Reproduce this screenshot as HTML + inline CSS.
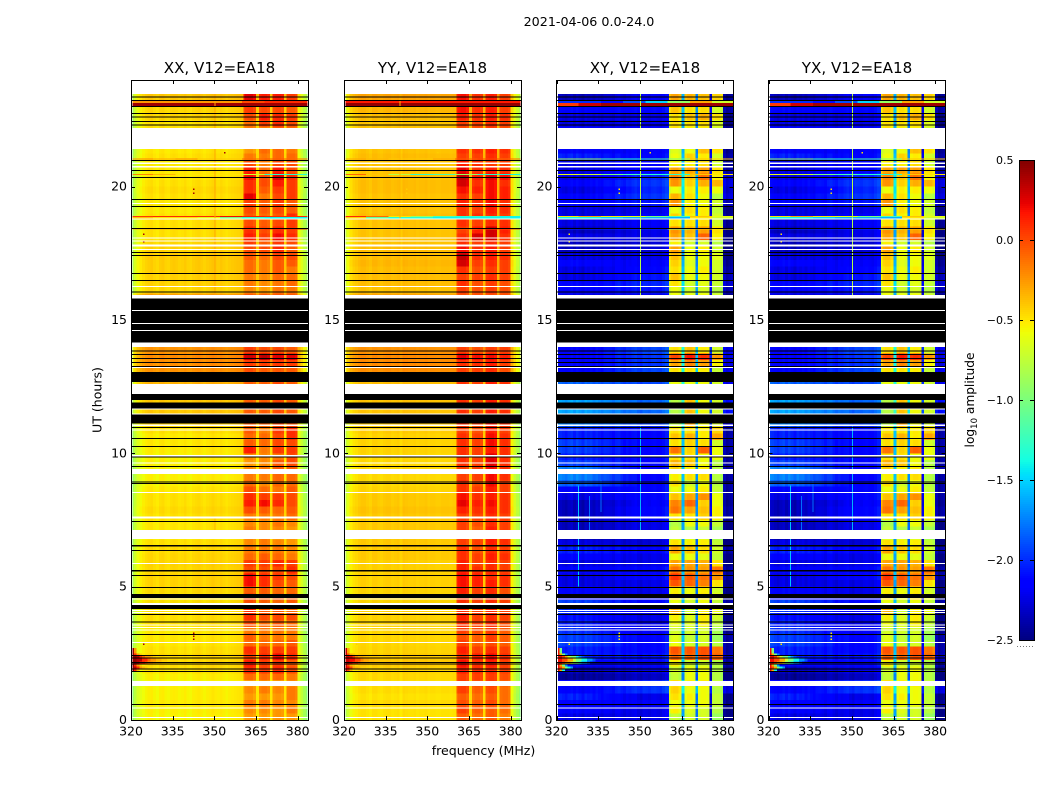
<!DOCTYPE html>
<html lang="en">
<head>
<meta charset="utf-8">
<title>2021-04-06 0.0-24.0</title>
<style>
html,body{margin:0;padding:0;background:#fff;}
svg{display:block;font-family:"DejaVu Sans","Liberation Sans",sans-serif;}
text{fill:#000;}
</style>
</head>
<body>
<svg id="chart" xmlns="http://www.w3.org/2000/svg" width="1050" height="800" viewBox="0 0 1050 800">
  <rect x="0" y="0" width="1050" height="800" fill="#fff"/>
  <text x="589" y="26" font-size="12.7" text-anchor="middle">2021-04-06 0.0-24.0</text>
  <text x="0" y="0" font-size="12.55" text-anchor="middle" transform="translate(101.5,400) rotate(-90)">UT (hours)</text>
  <text x="483.5" y="755" font-size="12.55" text-anchor="middle">frequency (MHz)</text>
  <text x="0" y="0" font-size="12.2" text-anchor="middle" transform="translate(974,400) rotate(-90)">log<tspan font-size="8.5" dy="3">10</tspan><tspan dy="-3"> amplitude</tspan></text>
</svg>
<script>
// ---- data -----------------------------------------------------------------
const freqTicks = [320, 335, 350, 365, 380];
const hourTicks = [0, 5, 10, 15, 20];
const colorbarTicks = [0.5, 0, -0.5, -1, -1.5, -2, -2.5];
const colorbarTickLabels = ['0.5', '0.0', '\u22120.5', '\u22121.0', '\u22121.5', '\u22122.0', '\u22122.5'];

const blankSpans = [[23.475,24],[21.41,22.2],[20.85,20.91],[20.72,20.78],[19.35,19.39],[18.77,18.81],[18.06,18.1],[17.94,17.98],[17.76,17.83],[17.62,17.66],[16.24,16.27],[15.81,15.94],[15.34,15.38],[14.85,14.89],[14.59,14.63],[13.99,14.16],[13.2,13.24],[12.23,12.6],[11.65,11.69],[11.46,11.49],[11.03,11.09],[10.86,10.89],[9.88,9.93],[9.62,9.65],[9.23,9.41],[8.51,8.55],[7.56,7.64],[7.09,7.13],[6.79,7.09],[5.85,5.89],[4.51,4.56],[4.32,4.39],[4.09,4.13],[4.01,4.05],[3.54,3.58],[3.45,3.49],[3.36,3.39],[2.89,2.93],[1.28,1.46],[0.43,0.47],[0.08,0.11]];
const flagSpans = [[23.34,23.38],[23.21,23.25],[22.99,23.03],[22.73,22.76],[22.6,22.64],[22.43,22.46],[22.3,22.34],[20.96,21],[20.59,20.63],[20.33,20.36],[19.5,19.54],[19.24,19.28],[18.41,18.45],[17.51,17.55],[17.4,17.44],[16.73,16.76],[16.46,16.5],[16.03,16.07],[14.16,15.81],[13.82,13.86],[13.69,13.73],[13.54,13.58],[13.39,13.43],[13.24,13.28],[12.68,13.05],[12,12.23],[11.68,11.91],[11.12,11.46],[10.95,10.99],[10.54,10.58],[10.24,10.28],[9.84,9.88],[9.49,9.53],[8.91,8.94],[8.85,8.89],[7.43,7.46],[6.51,6.56],[6.34,6.38],[5.57,5.63],[5.4,5.44],[4.95,4.99],[4.58,4.73],[4.16,4.31],[3.94,3.98],[3.66,3.69],[3.19,3.23],[2.4,2.44],[2.31,2.34],[2.14,2.18],[2.08,2.12],[1.89,1.93],[1.8,1.84],[0.56,0.6]];
const eventSpans = [[23.03,23.13],[23.13,23.25],[21.02,21.06],[20.44,20.48],[18.86,18.9],[18.81,18.86],[18.4,18.44]];
const flareHours = [1.9,2.0,2.1,2.2,2.3,2.4,2.5,2.6,2.7];
const flareReach = [3,6,4,12,14,10,4,2,2];
const speckFreqs = [342.4,342.4,342.4,324.4,342.4,342.4,324.4,324.4,353.5];
const speckHours = [3.29,3.17,3.06,2.87,19.94,19.79,18.25,17.96,21.3];

// channel offsets (64 channels, 320-383 MHz)
const xxChannel = [-.35,-.22,-.12,-.07,-.03,0,.02,.03,0,-.02,.02,.03,0,-.01,.02,.03,.02,0,.01,.03,0,-.01,.02,.03,.04,.02,0,.02,.03,.05,.03,.02,.04,.02,0,.02,.03,.04,.05,.06,-.05,0,.02,.02,-.03,.05,-.02,.02,.02,-.02,.05,0,.03,.03,0,.05,0,.02,.02,-.02,-.08,-.2,-.3,-.4];
const yyChannel = [-.3,-.2,-.1,-.05,-.03,0,.02,.02,0,-.02,.02,.02,0,-.01,.01,.02,.02,0,.01,.02,-.02,.03,.02,.01,.01,.02,0,.01,.01,.02,0,.01,.01,0,0,.01,.01,.01,0,.01,-.05,0,.02,.02,-.03,.04,-.02,.02,.02,-.02,.03,0,.03,.03,0,.04,0,.02,.02,-.02,-.1,-.25,-.35,-.45];
const xyChannel = [.05,.03,0,-.03,.02,.05,-.02,.05,0,-.05,.03,0,.03,-.02,.03,0,-.03,.02,.02,0,-.03,.03,.05,0,-.03,.02,0,.03,.05,0,-.03,.03,.02,0,.03,.04,.02,0,.05,.1,-.15,0,.02,.02,-.05,.6,-.03,.02,.02,-.03,.45,0,.03,.03,0,-.05,0,.02,.02,-.05,-.2,-.3,-.25,-.2];

// continuum level per quarter hour
const xxContinuum = [-.56,-.55,-.53,-.55,-.55,-.57,-.55,-.5,-.48,-.47,-.5,-.52,-.52,-.53,-.5,-.5,-.5,-.5,-.5,-.48,-.46,-.46,-.47,-.46,-.47,-.48,-.5,-.52,-.52,-.52,-.5,-.48,-.5,-.5,-.52,-.55,-.55,-.56,-.55,-.55,-.53,-.52,-.53,-.5,-.45,-.4,-.42,-.42,-.4,-.38,-.35,-.35,-.25,-.24,-.23,-.25,-.3,-.3,-.3,-.3,-.3,-.3,-.3,-.3,-.47,-.45,-.45,-.44,-.44,-.43,-.45,-.47,-.5,-.5,-.5,-.5,-.52,-.52,-.5,-.48,-.5,-.52,-.52,-.53,-.5,-.52,-.5,-.5,-.5,-.5,-.46,-.47,-.45,-.42,-.35,-.38];
const yyContinuum = [-.5,-.5,-.47,-.5,-.48,-.48,-.47,-.45,-.42,-.42,-.45,-.46,-.46,-.46,-.45,-.45,-.45,-.45,-.45,-.45,-.44,-.44,-.44,-.44,-.42,-.42,-.42,-.42,-.42,-.42,-.42,-.4,-.42,-.42,-.45,-.47,-.47,-.47,-.47,-.47,-.45,-.45,-.45,-.43,-.42,-.38,-.4,-.4,-.38,-.38,-.38,-.38,-.23,-.22,-.22,-.24,-.3,-.3,-.3,-.3,-.3,-.3,-.3,-.3,-.4,-.38,-.38,-.38,-.36,-.38,-.38,-.4,-.4,-.4,-.4,-.38,-.4,-.4,-.4,-.38,-.38,-.4,-.4,-.4,-.38,-.4,-.4,-.4,-.4,-.4,-.38,-.36,-.35,-.3,-.2,-.3];
const xyContinuumLow = [-2.1,-2,-2,-1.9,-2,-2,-2.3,-2.2,-2,-1.9,-1.9,-1.8,-1.8,-1.85,-1.9,-1.95,-1.85,-1.8,-2,-2,-2.1,-2.1,-2,-2.1,-2,-1.9,-2.1,-2.2,-2.2,-2.2,-2.2,-2.2,-2.2,-2.1,-2,-1.7,-1.6,-1.6,-1.8,-1.9,-1.8,-1.8,-1.9,-1.9,-1.6,-1.6,-1.5,-1.5,-1.7,-1.7,-1.7,-1.7,-2,-2,-2,-2,-2.1,-2.1,-2.1,-2.1,-2.1,-2.1,-2.1,-2.1,-2,-2,-2.1,-2.1,-2,-2.1,-2.2,-2.2,-2.1,-2.2,-2.1,-2.1,-2.1,-2,-2,-2.1,-2,-2.1,-2.1,-2.1,-1.9,-2,-2.1,-2.1,-2,-2.1,-2.1,-2,-2.2,-2.2,-2.1,-2.1];
const xyContinuumHigh = [-2.1,-2.1,-2.05,-2.1,-1.85,-1.9,-2.2,-2.1,-2,-1.95,-2,-2,-2,-2.05,-2.1,-2.1,-2.05,-2,-2.1,-2.1,-2.1,-2,-2,-2.1,-2.1,-2,-2.15,-2.15,-2.1,-2.1,-2,-2,-2.05,-2,-2,-2,-2,-2,-2,-2,-2,-2,-2,-2,-1.8,-1.8,-1.7,-1.7,-1.8,-1.8,-1.8,-1.8,-1.8,-1.85,-1.85,-1.8,-2.1,-2.1,-2.1,-2.1,-2.1,-2.1,-2.1,-2.1,-1.95,-1.9,-1.95,-2,-2.05,-2.1,-2.15,-2.15,-2.1,-2.1,-2.05,-2.05,-2.1,-1.95,-1.85,-1.9,-1.85,-1.9,-2,-2.05,-2,-2.05,-2.05,-2.1,-2.05,-2.1,-2.1,-2,-2.1,-2.05,-2,-2];

// in-band level per quarter hour for each of the four sub-bands
const xxSubband1 = [-.2,-.15,-.1,-.2,-.15,-.2,-.05,.15,.2,.1,.15,-.05,0,-.1,.05,.15,.15,.05,.1,0,.25,.25,.05,.1,-.05,-.1,-.15,-.15,-.1,-.15,-.1,.05,.2,.15,.05,-.05,-.1,-.15,-.2,-.15,.2,0,-.05,0,0,0,0,0,0,0,0,0,.05,.1,.35,.1,.1,.1,.1,.1,0,0,0,0,-.15,-.1,-.1,-.05,-.05,0,.05,.1,.2,.15,.05,0,.05,.1,.3,.15,.15,.25,.2,.05,-.1,-.2,-.15,-.1,-.1,-.05,.05,.1,.2,.3,.35,.35];
const xxSubband2 = [-.2,-.15,-.1,-.2,-.1,-.15,-.05,.1,.1,.15,.1,-.05,-.1,-.1,-.05,.05,0,0,0,0,.15,.15,.05,.1,0,-.1,-.1,-.1,-.15,-.15,-.1,0,.25,.1,-.05,-.15,-.1,-.1,-.15,-.15,-.1,-.05,-.05,-.1,0,0,0,0,0,0,0,0,0,.1,.4,.05,0,0,0,0,0,0,0,0,-.2,-.15,-.15,-.1,-.1,-.05,.05,0,.1,.05,0,-.05,0,0,-.1,0,.05,.05,-.05,-.1,-.1,-.05,-.1,-.05,-.1,.1,.2,.05,.1,.2,.3,.3];
const xxSubband3 = [-.2,-.2,-.15,-.2,-.15,-.2,-.05,.15,.1,.25,.1,-.05,-.1,-.1,0,.05,0,-.05,0,-.05,.05,.1,.05,.15,-.05,-.1,-.15,-.2,-.15,-.1,-.1,-.05,.15,.1,-.1,-.05,-.05,0,0,-.1,.1,.05,.05,.1,.05,.05,.05,.05,.05,.05,.05,.05,0,.1,.3,.05,0,0,0,0,0,0,0,0,-.1,-.1,-.05,0,0,.05,.15,.1,.25,.15,.05,0,.05,.1,.05,.1,.2,.3,.2,.05,-.05,-.05,-.1,-.1,0,.15,.15,.05,.1,.2,.3,.3];
const xxSubband4 = [-.2,-.1,-.15,-.1,-.1,-.15,-.1,.05,0,.15,.1,0,-.1,-.1,-.05,.05,-.05,0,0,-.05,0,.05,.15,.1,-.1,-.15,-.2,-.2,-.2,-.15,-.05,0,.05,.05,0,-.05,-.05,0,.05,.05,.1,.05,.15,.15,0,0,0,0,0,0,0,0,0,.1,.3,0,0,0,0,0,0,0,0,0,-.1,-.05,-.05,-.1,0,.05,0,.05,.15,.1,.1,.15,0,0,.1,.1,.1,.15,.05,.05,-.05,-.1,-.15,-.1,-.05,.05,.1,0,0,.1,.25,.25];
const yySubband1 = [-.05,.05,0,-.05,.05,.05,.05,.15,.2,.1,.15,.05,0,.05,.1,.15,.1,.1,.1,.15,.2,.2,.15,.15,.1,.1,.05,.05,.05,.05,.05,.15,.25,.2,.1,.1,.05,.05,.1,.1,.1,.1,.1,.05,.1,.1,.1,.1,.1,.1,.1,.1,.05,.1,.25,.05,0,0,0,0,0,0,0,0,.05,.1,.05,.1,.3,.35,.2,.1,.1,.05,.1,.1,.1,.15,.1,.2,.3,.35,.25,.15,.05,.1,.1,.1,0,.05,.15,.2,.15,.2,.3,.3];
const yySubband2 = [-.1,-.05,-.05,-.1,-.05,0,.05,.1,.1,.15,.05,-.05,-.05,0,.05,.05,.05,.05,.05,.05,.15,.15,.1,.05,.05,0,.05,0,-.05,0,.05,.1,.15,.1,.05,0,.05,.05,.05,.05,.05,.05,.05,0,.05,.05,.05,.05,.05,.05,.05,.05,.05,.1,.2,0,0,0,0,0,0,0,0,0,0,0,.05,0,.05,.1,.1,.05,.3,.15,.05,.1,.05,.1,.05,.15,.1,.15,.1,.1,.05,.1,.1,.05,0,.05,.1,.1,.05,.1,.25,.25];
const yySubband3 = [-.05,-.05,0,-.05,0,.05,.05,.1,.15,.2,.1,0,.05,.05,.1,.1,.1,.1,.1,.1,.15,.1,.1,.1,.15,.1,.15,.15,.15,.1,.1,.15,.2,.15,.15,.2,.2,.2,.25,.25,.15,.2,.2,.15,.15,.15,.15,.15,.15,.15,.15,.15,.1,.15,.2,.05,0,0,0,0,0,0,0,0,.05,.05,.1,.05,.1,.15,.15,.1,.3,.3,.1,.1,.15,.2,.2,.2,.2,.25,.15,.05,.1,.15,.15,.1,.05,.1,.15,.15,.1,.15,.3,.3];
const yySubband4 = [-.15,-.1,-.1,-.1,-.1,-.05,0,.05,.05,.1,.05,-.05,-.05,-.05,0,.05,.05,.05,0,0,.1,.1,.05,.05,.1,.05,.1,.1,.05,.05,.05,.1,.1,.1,.05,.05,.1,.1,.1,.1,.1,.1,.1,.05,.1,.1,.1,.1,.1,.1,.1,.1,0,.05,.15,.05,0,0,0,0,0,0,0,0,0,0,.05,.05,.05,.1,.05,.05,.1,.15,.1,.05,.1,.1,.15,.15,.1,.2,.1,.05,.05,.1,.1,.05,0,.05,.1,.05,.05,.05,.2,.2];
const xySubband1 = [-.75,-.55,-.6,-.5,-.45,-.5,-.75,-.7,-.55,-.1,-.05,-.6,-.65,-.7,-.6,-.55,-.35,-.6,-.5,-.55,-.05,.05,-.15,-.3,-.6,-.3,-.5,-.65,-.75,-.8,-.5,-.15,-.2,-.4,-.6,-.5,-.55,-.45,-.35,-.5,-.15,-.5,-.4,-.5,-.8,-.8,-.8,-.8,-.7,-.7,-.6,-.6,-.5,-.3,0,-.5,-.6,-.6,-.6,-.6,-.6,-.6,-.6,-.6,-.6,-.5,-.4,-.5,-.45,-.4,-.3,-.55,-.3,-.25,-.5,-.45,-.6,-.25,-.35,-.6,-.25,-.2,-.3,-.55,-.6,-.65,-.55,-.6,-.5,-.5,-.5,-.4,-.45,-.3,-.25,-.3];
const xySubband2 = [-.7,-.65,-.6,-.55,-.6,-.55,-.6,-.6,-.7,-.1,-.05,-.7,-.75,-.7,-.65,-.65,-.7,-.7,-.6,-.6,-.1,-.05,-.25,-.3,-.6,-.4,-.55,-.65,-.8,-.6,-.5,-.3,-.1,-.3,-.6,-.7,-.5,-.55,-.4,-.5,-.45,-.45,-.35,-.5,-.3,-.4,-.4,-.4,-.6,-.6,-.6,-.6,-.5,-.2,.15,-.4,-.6,-.6,-.6,-.6,-.6,-.6,-.6,-.6,-.7,-.7,-.6,-.6,-.65,-.6,-.6,-.7,-.4,-.35,-.5,-.55,-.5,-.55,-.5,-.55,-.45,-.4,-.3,-.55,-.45,-.6,-.55,-.6,-.55,-.5,-.4,-.5,-.5,-.35,-.3,-.3];
const xySubband3 = [-.7,-.7,-.6,-.6,-.6,-.55,-.6,-.6,-.7,-.05,-.05,-.7,-.7,-.7,-.55,-.55,-.55,-.6,-.5,-.55,-.2,-.15,-.3,-.35,-.65,-.5,-.55,-.65,-.75,-.6,-.45,-.4,-.45,-.25,-.55,-.6,-.5,-.55,-.6,-.6,-.1,-.5,-.55,-.55,-.6,-.6,-.6,-.6,-.6,-.6,-.6,-.6,-.55,-.3,.05,-.55,-.6,-.6,-.6,-.6,-.6,-.6,-.6,-.6,-.7,-.65,-.6,-.55,-.6,-.6,-.55,-.7,-.1,-.3,-.5,-.55,-.55,-.6,-.6,-.55,-.35,-.15,-.3,-.5,-.55,-.4,-.45,-.6,-.55,-.5,-.35,-.5,-.55,-.4,-.25,-.25];
const xySubband4 = [-.9,-.8,-.75,-.75,-.8,-.75,-.8,-.8,-.8,-.1,-.15,-.8,-.9,-.85,-.75,-.7,-.6,-.75,-.6,-.7,-.5,-.25,-.15,-.5,-.75,-.7,-.75,-.85,-.85,-.75,-.55,-.55,-.6,-.6,-.75,-.8,-.8,-.8,-.8,-.6,-.6,-.7,-.3,-.45,-.7,-.7,-.7,-.7,-.7,-.7,-.7,-.7,-.75,-.55,-.25,-.7,-.7,-.7,-.7,-.7,-.7,-.7,-.7,-.7,-.8,-.75,-.7,-.7,-.7,-.65,-.7,-.8,-.55,-.5,-.7,-.7,-.75,-.7,-.8,-.6,-.35,-.55,-.5,-.7,-.7,-.5,-.45,-.65,-.7,-.65,-.5,-.7,-.65,-.45,-.3,-.35];

// one row of levels per event span, each with eight 8-MHz segments
const xxEvents = [[.42,.42,.42,.42,.42,.42,.42,.42],[-.25,-.25,-.25,-.25,-.25,0,.1,.1],[-.2,-.3,-.2,-.4,-.4,-.1,-.05,-.1],[-.2,-.35,-.5,-.5,-.5,-.7,-1.3,-1.3],[.05,.1,.1,.1,.2,.15,.1,.1],[-.4,-.5,-.5,-.6,-1,-1.3,-1.4,-1.4],[-.3,-.3,-.2,-.3,-.4,0,.1,.1]];
const yyEvents = [[.45,.45,.45,.45,.45,.45,.45,.45],[.15,.15,.15,.15,.15,.15,.15,.15],[-.3,-.35,-.4,-.4,-.3,-.05,0,-.1],[-.1,-.4,-.8,-1.3,-1.2,-.9,-1.3,-1.4],[.1,-.1,-.5,-.9,-1.2,-1.3,-1.3,-1.4],[-.45,-1.1,-1.3,-1.3,-1.4,-1.4,-1.4,-1.4],[-.42,-.42,-.42,-.42,-.42,-.1,0,0]];
const xyEvents = [[.05,.3,.42,.42,.42,.42,.42,.42],[-2,-2,-2.1,-1.9,-1.5,-.9,-.3,-.7],[-.9,-.9,-1.2,-1.3,-1.2,-1,-.4,-.4],[-.6,-.7,-1,-1.2,-1.3,-1.3,-.4,-.5],[-.5,-.3,-.5,-.6,-1,-1.2,-.4,-.6],[-1.4,-1.4,-1.5,-1.6,-1.6,-1.6,-.5,-.7],[-2,-2,-2,-2,-2,-1,-.4,-.5]];

const xxFlare = [.45,.35,.1,-.1,-.25,-.35,-.42,-.47];
const yyFlare = [.3,.2,0,-.2,-.3,-.35,-.38,-.4];
const xyFlare = [.2,0,-.3,-.7,-1,-1.4,-1.7,-1.9];

// narrow vertical features: frequency, start hour, end hour, level
const xxLines = [[350,15.9,23.47,-.3],[350,6.8,7.6,-.35]];
const yyLines = [[340,16,23.47,-.35]];
const xyLines = [[350,15.9,23.47,-.8],[350,7,11,-1.6],[327.8,5,8.8,-1.55],[331.7,7,8.4,-1.8],[335.9,7.8,9,-1.8]];

const titles = ['XX, V12=EA18', 'YY, V12=EA18', 'XY, V12=EA18', 'YX, V12=EA18'];
const panelLeft = [131, 344, 556.5, 768.5];

const panels = [
  {key:'xx', channel:xxChannel, low:xxContinuum, high:xxContinuum, contShift:0, bandShift:-.07, subs:[xxSubband1,xxSubband2,xxSubband3,xxSubband4], events:xxEvents, flare:xxFlare, lines:xxLines, speck:.4},
  {key:'yy', channel:yyChannel, low:yyContinuum, high:yyContinuum, contShift:0, bandShift:-.03, subs:[yySubband1,yySubband2,yySubband3,yySubband4], events:yyEvents, flare:yyFlare, lines:yyLines, speck:-.42},
  {key:'xy', channel:xyChannel, low:xyContinuumLow, high:xyContinuumHigh, contShift:-.15, bandShift:0, subs:[xySubband1,xySubband2,xySubband3,xySubband4], events:xyEvents, flare:xyFlare, lines:xyLines, speck:-.5},
  {key:'yx', channel:xyChannel, low:xyContinuumLow, high:xyContinuumHigh, contShift:-.15, bandShift:0, subs:[xySubband1,xySubband2,xySubband3,xySubband4], events:xyEvents, flare:xyFlare, lines:xyLines, speck:-.5}
];

// ---- scales ------------------------------------------------------------------
const NS = 'http://www.w3.org/2000/svg';
const svg = document.getElementById('chart');
const AX_TOP = 80, AX_BOTTOM = 720, AX_W = 177, PX_MHZ = 2.778, PX_HOUR = 26.667;
const CB_X = 1019, CB_W = 15, CB_TOP = 160, CB_BOTTOM = 640;
const yScale = t => AX_BOTTOM - t * PX_HOUR;
const cbScale = v => CB_BOTTOM - (v + 2.5) / 3 * (CB_BOTTOM - CB_TOP);

function interp(knots, f) {
  for (let i = 1; i < knots.length; i++) {
    if (f <= knots[i][0]) {
      const a = knots[i - 1], b = knots[i];
      return a[1] + (b[1] - a[1]) * (f - a[0]) / (b[0] - a[0]);
    }
  }
  return knots[knots.length - 1][1];
}
const R = [[0,0],[.35,0],[.66,1],[.89,1],[1,.5]];
const G = [[0,0],[.125,0],[.375,1],[.64,1],[.91,0],[1,0]];
const B = [[0,.5],[.11,1],[.34,1],[.65,0],[1,0]];
function jet(v) {
  const f = Math.min(1, Math.max(0, (v + 2.5) / 3));
  return 'rgb(' + Math.round(255 * interp(R, f)) + ',' + Math.round(255 * interp(G, f)) + ',' + Math.round(255 * interp(B, f)) + ')';
}
function subbandOf(ch) {
  if (ch >= 40 && ch <= 44) return 0;
  if (ch >= 46 && ch <= 49) return 1;
  if (ch >= 51 && ch <= 54) return 2;
  if (ch >= 56 && ch <= 59) return 3;
  return -1;
}
function channelEdge(ch) {
  if (ch === 0) return 320.5;
  if (ch === 64) return 383.5;
  if (ch === 40) return 360.45;
  return 320 + ch;
}
function cellValue(p, ch, r) {
  const s = subbandOf(ch);
  if (s >= 0) return p.subs[s][r] + p.bandShift + p.channel[ch];
  const w = Math.min(1, Math.max(0, (ch - 10) / 20));
  return p.low[r] * (1 - w) + p.high[r] * w + p.contShift + p.channel[ch];
}
function rect(parent, x, y, w, h, fill) {
  const el = document.createElementNS(NS, 'rect');
  el.setAttribute('x', x);
  el.setAttribute('y', y);
  el.setAttribute('width', w);
  el.setAttribute('height', h);
  el.setAttribute('fill', fill);
  el.setAttribute('shape-rendering', 'crispEdges');
  parent.appendChild(el);
  return el;
}
function tick(parent, x1, y1, x2, y2) {
  const el = document.createElementNS(NS, 'line');
  el.setAttribute('x1', x1);
  el.setAttribute('y1', y1);
  el.setAttribute('x2', x2);
  el.setAttribute('y2', y2);
  el.setAttribute('stroke', '#000');
  el.setAttribute('stroke-width', '1');
  el.setAttribute('shape-rendering', 'crispEdges');
  parent.appendChild(el);
  return el;
}
function label(parent, x, y, size, anchor, str) {
  const el = document.createElementNS(NS, 'text');
  el.setAttribute('x', x);
  el.setAttribute('y', y);
  el.setAttribute('font-size', size);
  el.setAttribute('text-anchor', anchor);
  el.textContent = str;
  parent.appendChild(el);
  return el;
}

// ---- panels ---------------------------------------------------------------------
panels.forEach((p, idx) => {
  const x0 = panelLeft[idx];
  const xScale = f => x0 + (f - 320) * PX_MHZ;
  const g = document.createElementNS(NS, 'g');
  
  
  svg.appendChild(g);

  // heatmap cells
  for (let r = 0; r < 96; r++) {
    for (let ch = 0; ch < 64; ch++) {
      const left = xScale(channelEdge(ch));
      const right = xScale(channelEdge(ch + 1));
      const top = yScale((r + 1) / 4);
      const el = rect(g, left, top, right - left, yScale(r / 4) - top, jet(cellValue(p, ch, r)));
      
      
    }
  }
  // row events
  p.events.forEach((levels, e) => {
    const span = eventSpans[e];
    levels.forEach((v, s) => {
      const left = xScale(Math.max(320 + s * 8, 320.5));
      const right = xScale(Math.min(328 + s * 8, 383.5));
      const el = rect(g, left, yScale(span[1]), right - left, yScale(span[0]) - yScale(span[1]), jet(v));
      
      
    });
  });
  // left-edge flare
  flareHours.forEach((t, i) => {
    for (let ch = 0; ch < flareReach[i]; ch++) {
      const v = p.flare[Math.floor(ch / flareReach[i] * p.flare.length)];
      const left = xScale(Math.max(320 + ch, 320.5));
      const el = rect(g, left, yScale(t), xScale(321 + ch) - left, yScale(t - .1) - yScale(t), jet(v));
      
      
    }
  });
  // narrow vertical lines
  p.lines.forEach(l => {
    const el = rect(g, xScale(l[0]), yScale(l[2]), 1, yScale(l[1]) - yScale(l[2]), jet(l[3]));
    
    
  });
  // isolated specks
  speckFreqs.forEach((f, i) => {
    const el = rect(g, xScale(f), yScale(speckHours[i]), 1.5, 1.5, jet(p.speck));
    
    
  });
  // flagged rows (black) and blank rows (white)
  flagSpans.forEach(s => {
    const el = rect(g, x0, yScale(s[1]), AX_W, yScale(s[0]) - yScale(s[1]), '#000');
    
    
  });
  blankSpans.forEach(s => {
    const el = rect(g, x0, yScale(s[1]), AX_W, yScale(s[0]) - yScale(s[1]), '#fff');
    
    
  });

  // frame
  const frame = document.createElementNS(NS, 'rect');
  frame.setAttribute('x', Math.floor(x0) + .5);
  frame.setAttribute('y', AX_TOP + .5);
  frame.setAttribute('width', AX_W);
  frame.setAttribute('height', AX_BOTTOM - AX_TOP);
  frame.setAttribute('fill', 'none');
  frame.setAttribute('stroke', '#000');
  frame.setAttribute('stroke-width', '1');
  frame.setAttribute('shape-rendering', 'crispEdges');
  
  
  g.appendChild(frame);

  // ticks + labels
  freqTicks.forEach(f => {
    const x = Math.round(xScale(f)) + .5;
    const t1 = tick(g, x, AX_BOTTOM, x, AX_BOTTOM - 4);
    
    
    const t2 = tick(g, x, AX_TOP, x, AX_TOP + 4);
    
    
    const tx = label(g, xScale(f), AX_BOTTOM + 15.5, 12.5, 'middle', String(f));
    
    
  });
  hourTicks.forEach(h => {
    const y = Math.round(yScale(h)) + .5;
    const t1 = tick(g, x0, y, x0 + 4, y);
    
    
    const t2 = tick(g, x0 + AX_W - 4, y, x0 + AX_W, y);
    
    
    const tx = label(g, x0 - 4, yScale(h) + 4, 12.5, 'end', String(h));
    
    
  });
  const ttl = label(g, x0 + AX_W / 2, 73, 15.1, 'middle', titles[idx]);
  
  
});

// ---- colorbar ---------------------------------------------------------------------
const cb = document.createElementNS(NS, 'g');


svg.appendChild(cb);
for (let i = 0; i < 240; i++) {
  const lo = -2.5 + i * 3 / 240;
  const hi = -2.5 + (i + 1) * 3 / 240;
  const el = rect(cb, CB_X, cbScale(hi), CB_W, cbScale(lo) - cbScale(hi), jet((lo + hi) / 2));
  
  
}
const cbFrame = document.createElementNS(NS, 'rect');
cbFrame.setAttribute('x', CB_X + .5);
cbFrame.setAttribute('y', CB_TOP + .5);
cbFrame.setAttribute('width', CB_W);
cbFrame.setAttribute('height', CB_BOTTOM - CB_TOP);
cbFrame.setAttribute('fill', 'none');
cbFrame.setAttribute('stroke', '#000');
cbFrame.setAttribute('shape-rendering', 'crispEdges');


cb.appendChild(cbFrame);
colorbarTicks.forEach((v, i) => {
  const y = Math.round(cbScale(v)) + .5;
  const t1 = tick(cb, CB_X, y, CB_X + 4, y);
  
  
  const t2 = tick(cb, CB_X + CB_W - 4, y, CB_X + CB_W, y);
  
  
  const tx = label(cb, CB_X - 5.5, cbScale(v) + 4, 11, 'end', colorbarTickLabels[i]);
  
  
});
const dots = tick(cb, CB_X - 2, 646.5, CB_X + CB_W, 646.5);
dots.setAttribute('stroke', '#777');
dots.setAttribute('stroke-dasharray', '1 2');


</script>
</body>
</html>
